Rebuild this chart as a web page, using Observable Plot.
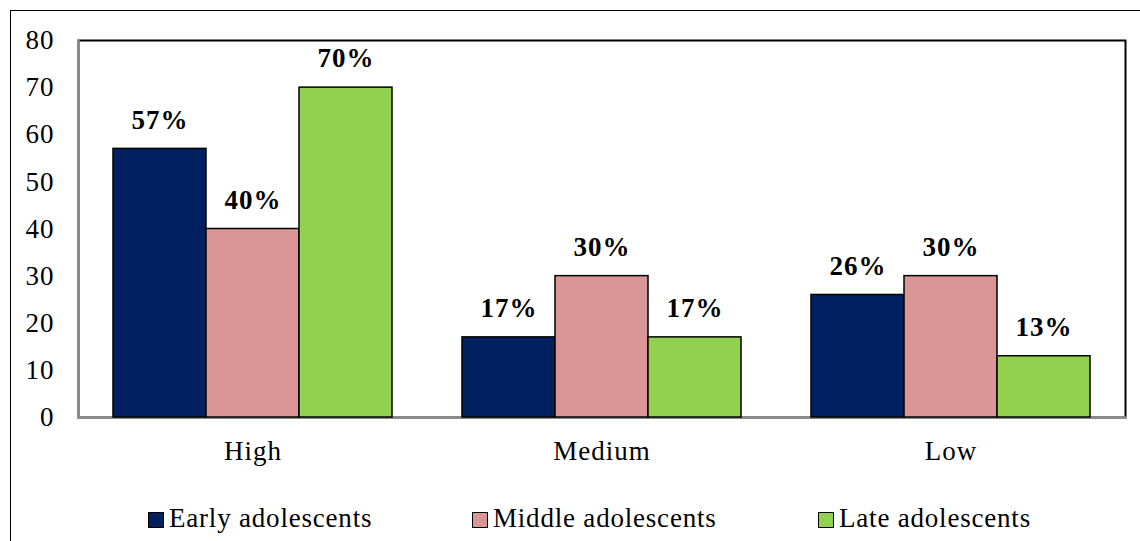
<!DOCTYPE html>
<html>
<head>
<meta charset="utf-8">
<script src="https://cdn.jsdelivr.net/npm/d3@7"></script>
<script src="https://cdn.jsdelivr.net/npm/@observablehq/plot@0.6"></script>
<style>
  html, body { margin: 0; padding: 0; background: #fff; }
  #wrap { position: relative; width: 1140px; height: 541px; overflow: hidden; font-family: "Liberation Serif", serif; }
  #border { position: absolute; left: 10px; top: 10px; width: 1200px; height: 600px; border: 1.5px solid #000; box-sizing: border-box; }
  #chart { position: absolute; left: 0; top: 0; }
  #legend { position: absolute; left: 0; top: 503px; width: 1140px; height: 36px; font-size: 27px; letter-spacing: 0.8px; color: #000; }
  .item { position: absolute; top: 0; display: flex; align-items: center; white-space: nowrap; }
  .sw { width: 16px; height: 16px; border: 1.5px solid #000; box-sizing: border-box; margin-right: 5px; margin-top: 2px; }
  #chart svg text { letter-spacing: 1px; }
</style>
</head>
<body>
<div id="wrap">
  <div id="border"></div>
  <div id="chart"></div>
  <div id="legend"></div>
</div>
<script>
const categories = ["High", "Medium", "Low"];
const series = ["Early adolescents", "Middle adolescents", "Late adolescents"];
const earlyValues = [57, 17, 26];
const middleValues = [40, 30, 30];
const lateValues = [70, 17, 13];
const colors = ["#002060", "#D99694", "#92D050"];
const yTicks = [0, 10, 20, 30, 40, 50, 60, 70, 80];

const seriesValues = [earlyValues, middleValues, lateValues];
const data = [];
categories.forEach((c, i) => {
  series.forEach((s, j) => data.push({category: c, series: s, value: seriesValues[j][i]}));
});

const chart = Plot.plot({
  width: 1140,
  height: 470,
  marginLeft: 77,
  marginRight: 15,
  marginTop: 40,
  marginBottom: 53,
  style: {fontFamily: "'Liberation Serif', serif", fontSize: "27px", color: "#000", background: "transparent"},
  fx: {domain: categories, padding: 0, label: null, axis: "bottom", tickSize: 0, tickPadding: 23},
  x: {domain: series, paddingInner: 0, paddingOuter: 0.375, axis: null},
  y: {domain: [0, 80], ticks: yTicks, tickSize: 0, tickPadding: 24, label: null},
  color: {domain: series, range: colors},
  marks: [
    Plot.frame({facet: "super", stroke: "#000", strokeWidth: 2}),
    Plot.frame({facet: "super", anchor: "left", stroke: "#8c8c8c", strokeWidth: 2.5}),
    Plot.frame({facet: "super", anchor: "bottom", stroke: "#8c8c8c", strokeWidth: 2.5}),
    Plot.barY(data, {fx: "category", x: "series", y: "value", fill: "series", stroke: "#000", strokeWidth: 1.5}),
    Plot.text(data, {fx: "category", x: "series", y: "value", text: d => d.value + "%", dy: -29, lineAnchor: "middle", fontWeight: "bold", fontSize: 27})
  ]
});
document.getElementById("chart").appendChild(chart);

const legendLefts = [148, 472, 818];
const legend = document.getElementById("legend");
series.forEach((s, i) => {
  const item = document.createElement("div");
  item.className = "item";
  item.style.left = legendLefts[i] + "px";
  const sw = document.createElement("span");
  sw.className = "sw";
  sw.style.background = colors[i];
  const t = document.createElement("span");
  t.textContent = s;
  item.appendChild(sw);
  item.appendChild(t);
  legend.appendChild(item);
});
</script>
</body>
</html>
